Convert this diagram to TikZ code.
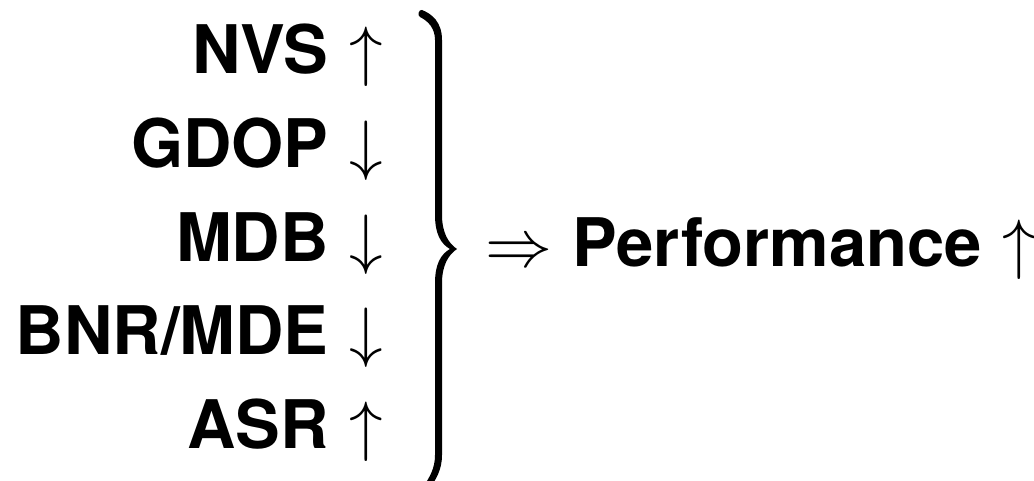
\RequirePackage{fix-cm}
\documentclass[tikz,border=0pt]{standalone}
\usepackage{fontspec}
\setmainfont{TeX Gyre Heros}
\begin{document}
\begin{tikzpicture}[x=0.5pt,y=-0.5pt,
  lbl/.style={inner sep=0pt,anchor=base east,font=\fontsize{33.5}{40}\selectfont\bfseries},
  arr/.style={inner sep=0pt,anchor=base,font=\fontsize{33.5}{40}\selectfont},
  perf/.style={inner sep=0pt,anchor=base west,font=\fontsize{33.5}{40}\selectfont\bfseries}]
\useasboundingbox (0,0) rectangle (1034,481);
% metric labels with their trend arrows
\node[lbl] (nvs)  at (329,74)    {NVS};
\node[lbl] (gdop) at (329,167.5) {GDOP};
\node[lbl] (mdb)  at (329,261)   {MDB};
\node[lbl] (bnr)  at (329,354.5) {BNR/MDE};
\node[lbl] (asr)  at (329,448)   {ASR};
\node[arr] (a1) at (366,74)    {$\uparrow$};
\node[arr] (a2) at (366,167.5) {$\downarrow$};
\node[arr] (a3) at (366,261)   {$\downarrow$};
\node[arr] (a4) at (366,354.5) {$\downarrow$};
\node[arr] (a5) at (366,448)   {$\uparrow$};
% grouping brace, filled with tapered ends and a pointed middle
\fill (422,10) .. controls (432,14) and (442,22) .. (442,40)
  -- (442,215) .. controls (442,232) and (448,243) .. (457,249)
  .. controls (448,255) and (442,266) .. (442,283)
  -- (442,455) .. controls (442,470) and (436,479) .. (429,490)
  -- (423,487) .. controls (430,477) and (435,468) .. (435,455)
  -- (435,283) .. controls (435,264) and (441,254) .. (450,249)
  .. controls (441,244) and (435,234) .. (435,215)
  -- (435,40) .. controls (435,28) and (428,21) .. (420,17)
  .. controls (417,15.5) and (419,9) .. (422,10) -- cycle;
% conclusion
\node[arr] (impl) at (519,266) {$\Rightarrow$};
\node[perf] (perf) at (572,266) {Performance};
\node[arr] (a6) at (1019,266) {$\uparrow$};
\end{tikzpicture}
\end{document}
